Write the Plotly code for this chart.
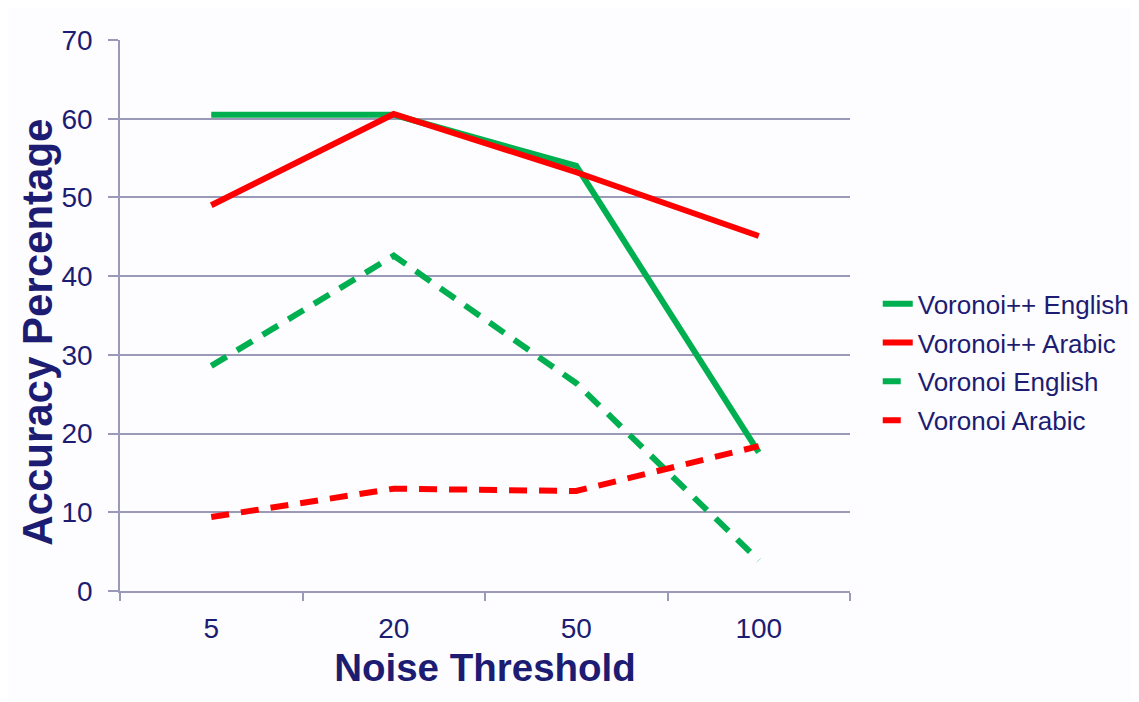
import plotly.graph_objects as go

# Data
thresholds = ["5", "20", "50", "100"]
voronoipp_english = [60.5, 60.5, 54.0, 17.6]
voronoipp_arabic = [49.0, 60.6, 53.2, 45.1]
voronoi_english = [28.6, 42.6, 26.4, 3.9]
voronoi_arabic = [9.4, 13.0, 12.7, 18.4]

GREEN = "#00B050"
RED = "#FF0000"
NAVY = "#1C1C73"
GRID = "#9A9AB8"
BG = "#FDFCFE"

series = [
    ("Voronoi++ English", voronoipp_english, GREEN, "solid"),
    ("Voronoi++ Arabic", voronoipp_arabic, RED, "solid"),
    ("Voronoi English", voronoi_english, GREEN, "18px,12px"),
    ("Voronoi Arabic", voronoi_arabic, RED, "18px,12px"),
]

fig = go.Figure()
for i, (name, vals, color, dash) in enumerate(series):
    fig.add_trace(go.Scatter(x=thresholds, y=vals, name=name, mode="lines",
                             legendgroup=f"g{i}",
                             line=dict(color=color, width=6, dash=dash)))

fig.update_layout(
    width=1139, height=702,
    margin=dict(l=112, r=289, t=32, b=119),
    paper_bgcolor=BG, plot_bgcolor=BG,
    font=dict(family="Liberation Sans, Arial, sans-serif", color=NAVY),
    showlegend=True,
    legend=dict(x=1.038, xanchor="left", y=0.415, yanchor="middle",
                font=dict(size=26, color=NAVY), tracegroupgap=2,
                bgcolor="rgba(0,0,0,0)"),
)

# y title as annotation so it can sit a bit below the plot centre, as in the original
fig.add_annotation(text="<b>Accuracy Percentage</b>", textangle=-90,
                   xref="paper", yref="paper", x=-0.114, y=0.47,
                   xanchor="center", yanchor="middle", showarrow=False,
                   font=dict(size=42, color=NAVY))

fig.update_xaxes(
    type="category", range=[-0.5, 3.5], tickson="boundaries",
    showgrid=False, showline=True, linecolor=GRID, linewidth=1.5,
    ticks="outside", ticklen=8, tickcolor=GRID, tickwidth=1.5,
    tickfont=dict(size=28, color=NAVY), ticklabelstandoff=12,
    title=dict(text="<b>Noise Threshold</b>", font=dict(size=38.5, color=NAVY),
               standoff=11),
)
fig.update_yaxes(
    range=[0, 70], dtick=10, showgrid=True, gridcolor=GRID, gridwidth=1.5,
    zeroline=False, showline=True, linecolor=GRID, linewidth=1.5,
    ticks="outside", ticklen=10, tickcolor=GRID, tickwidth=1.5,
    tickfont=dict(size=28, color=NAVY), ticklabelstandoff=10,
)

fig.write_html("out.html")
